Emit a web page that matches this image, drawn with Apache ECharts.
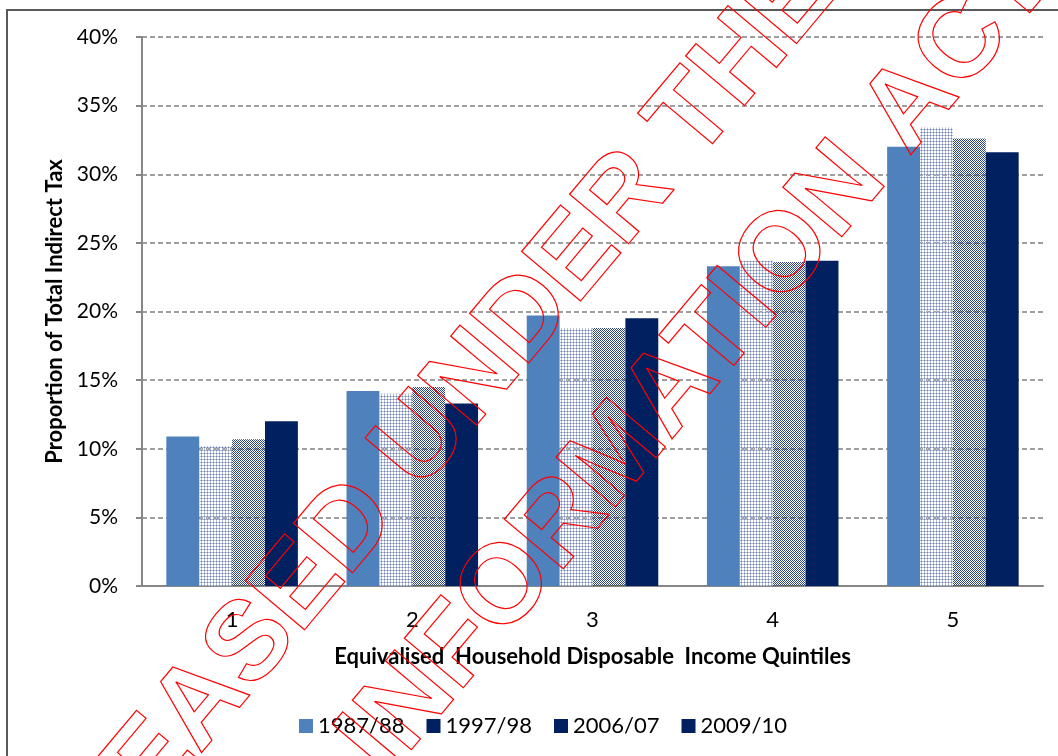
<!DOCTYPE html>
<html>
<head>
<meta charset="utf-8">
<script src="https://cdn.jsdelivr.net/npm/echarts@6/dist/echarts.min.js"></script>
<style>
  html, body { margin: 0; padding: 0; background: #fff; }
  #chart { width: 1058px; height: 756px; }
</style>
</head>
<body>
<div id="chart"></div>
<script>
  // quintiles and yearly shares of indirect tax (%)
  var quintiles = ['1', '2', '3', '4', '5']
  var years = ['1987/88', '1997/98', '2006/07', '2009/10']
  var share8788 = [10.9, 14.2, 19.7, 23.3, 32.0]
  var share9798 = [10.2, 14.0, 18.8, 23.7, 33.4]
  var share0607 = [10.7, 14.5, 18.8, 23.6, 32.6]
  var share0910 = [12.0, 13.3, 19.5, 23.7, 31.6]

  var blue = '#4f81bd'
  var navy = '#002060'

  // small tiled canvases standing in for the excel fill patterns
  function makeTile (size, paint) {
    var c = document.createElement('canvas')
    c.width = size
    c.height = size
    var ctx = c.getContext('2d')
    paint(ctx)
    return c
  }
  var lightTile = makeTile(3, function (ctx) {
    ctx.fillStyle = '#b4bed8'
    ctx.fillRect(0, 0, 3, 1)
    ctx.fillRect(0, 0, 1, 3)
    ctx.fillStyle = '#7082b0'
    ctx.fillRect(0, 0, 1, 1)
  })
  var denseTile = makeTile(2, function (ctx) {
    ctx.fillStyle = '#2c4580'
    ctx.fillRect(0, 0, 1, 1)
    ctx.fillRect(1, 1, 1, 1)
  })

  var chart = echarts.init(document.getElementById('chart'))

  var labelFont = 'Lato'
  var wmFont = 'bold 112px "Liberation Sans", Arial, sans-serif'

  var option = {
    backgroundColor: '#fff',
    animation: false,
    grid: {
      left: 142,
      right: 15,
      top: 37,
      bottom: 170
    },
    legend: {
      left: 294,
      top: 710,
      itemWidth: 14,
      itemHeight: 14,
      itemGap: 22,
      icon: 'rect',
      textStyle: { fontFamily: labelFont, fontSize: 22, color: '#000' },
      data: [
        { name: years[0], itemStyle: { color: blue } },
        { name: years[1], itemStyle: { color: navy } },
        { name: years[2], itemStyle: { color: navy } },
        { name: years[3], itemStyle: { color: navy } }
      ]
    },
    xAxis: {
      type: 'category',
      data: quintiles,
      name: 'Equivalised  Household Disposable  Income Quintiles',
      nameLocation: 'middle',
      nameGap: 60,
      nameTextStyle: { fontFamily: labelFont, fontWeight: 'bold', fontSize: 22, color: '#000' },
      axisLine: { lineStyle: { color: '#878787', width: 2 } },
      axisTick: { length: 7, lineStyle: { color: '#878787', width: 2 } },
      axisLabel: { margin: 23, fontFamily: labelFont, fontSize: 22, color: '#000' }
    },
    yAxis: {
      type: 'value',
      min: 0,
      max: 40,
      interval: 5,
      name: 'Proportion of Total Indirect Tax',
      nameLocation: 'middle',
      nameGap: 72,
      nameTextStyle: { fontFamily: labelFont, fontWeight: 'bold', fontSize: 22, color: '#000' },
      axisLine: { show: true, lineStyle: { color: '#878787', width: 2 } },
      axisTick: { show: true, length: 6, lineStyle: { color: '#878787', width: 2 } },
      axisLabel: { margin: 24, fontFamily: labelFont, fontSize: 21, color: '#000', formatter: '{value}%' },
      splitLine: { lineStyle: { color: '#808080', width: 1.6, type: [5, 3] } }
    },
    series: [
      { name: years[0], type: 'bar', data: share8788, barGap: '0%', barCategoryGap: '27%', itemStyle: { color: blue } },
      { name: years[1], type: 'bar', data: share9798, itemStyle: { color: { image: lightTile, repeat: 'repeat' } } },
      { name: years[2], type: 'bar', data: share0607, itemStyle: { color: { image: denseTile, repeat: 'repeat' } } },
      { name: years[3], type: 'bar', data: share0910, itemStyle: { color: navy } }
    ],
    graphic: [
      {
        type: 'rect',
        silent: true,
        shape: { x: 7, y: 10, width: 1100, height: 800 },
        style: { fill: 'none', stroke: '#595959', lineWidth: 2 }
      },
      {
        type: 'text',
        silent: true,
        z: 100,
        x: 400,
        y: 468,
        rotation: 50 * Math.PI / 180,
        style: {
          text: 'RELEASED UNDER THE',
          font: wmFont,
          align: 'center',
          verticalAlign: 'middle',
          fill: 'none',
          stroke: '#ff0000',
          lineWidth: 1.2
        }
      },
      {
        type: 'text',
        silent: true,
        z: 100,
        x: 698,
        y: 360,
        rotation: 50 * Math.PI / 180,
        style: {
          text: 'INFORMATION ACT',
          font: wmFont,
          align: 'center',
          verticalAlign: 'middle',
          fill: 'none',
          stroke: '#ff0000',
          lineWidth: 1.2
        }
      }
    ]
  }

  chart.setOption(option)
</script>
</body>
</html>
